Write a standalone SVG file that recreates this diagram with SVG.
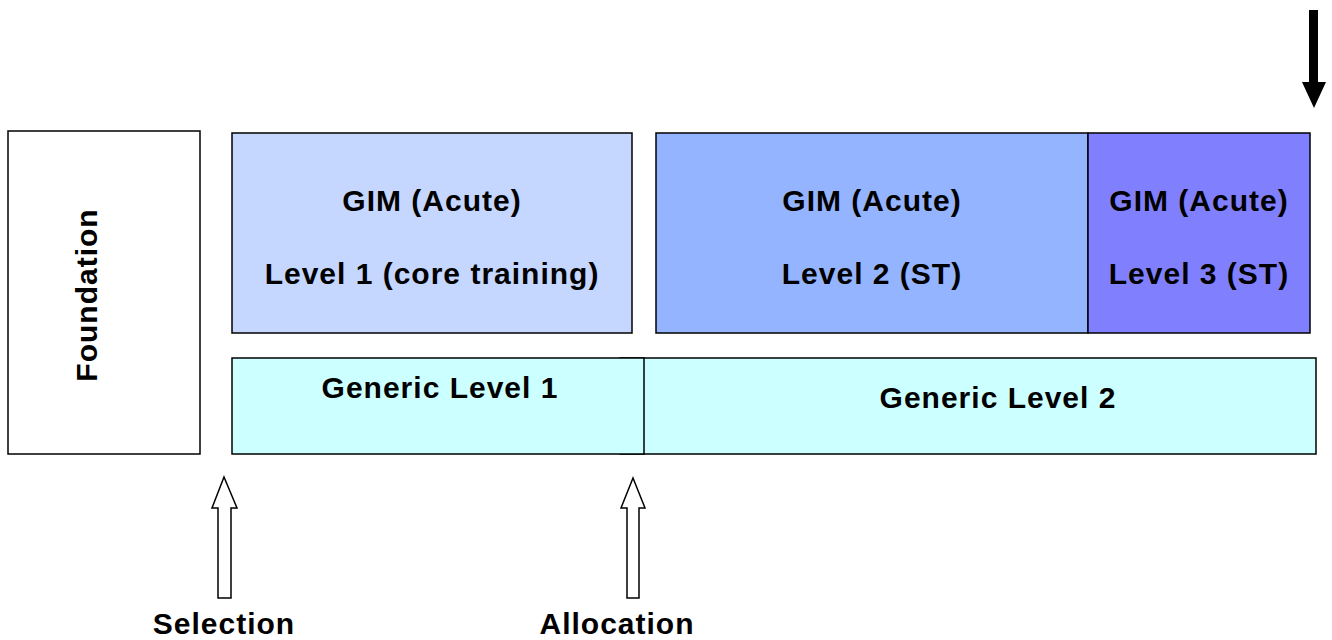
<svg xmlns="http://www.w3.org/2000/svg" width="1332" height="640" viewBox="0 0 1332 640">
<style>
.box{stroke:#000;stroke-width:1.5}
.t{font-family:"Liberation Sans",Arial,sans-serif;font-weight:bold;font-size:30px;letter-spacing:1px;fill:#000;text-anchor:middle}
.hollow{fill:#fff;stroke:#000;stroke-width:1.5}
</style>
<rect width="1332" height="640" fill="#fff"/>
<g id="foundation">
<rect class="box" x="8" y="131" width="192" height="323" fill="#fff"/>
<text class="t" transform="translate(97,295) rotate(-90)">Foundation</text>
</g>
<g id="gim-level1">
<rect class="box" x="232" y="133" width="400" height="200" fill="#C5D7FF"/>
<text class="t" x="432" y="211">GIM (Acute)</text>
<text class="t" x="432" y="284">Level 1 (core training)</text>
</g>
<g id="gim-level2">
<rect class="box" x="656" y="133" width="432" height="200" fill="#94B4FF"/>
<text class="t" x="872" y="211">GIM (Acute)</text>
<text class="t" x="872" y="284">Level 2 (ST)</text>
</g>
<g id="gim-level3">
<rect class="box" x="1088" y="133" width="222" height="200" fill="#8080FF"/>
<text class="t" x="1199" y="211">GIM (Acute)</text>
<text class="t" x="1199" y="284">Level 3 (ST)</text>
</g>
<g id="generic-level2">
<rect class="box" x="620" y="358" width="696" height="96" fill="#CCFFFF"/>
<text class="t" x="998" y="408">Generic Level 2</text>
</g>
<g id="generic-level1">
<rect class="box" x="232" y="358" width="412" height="96" fill="#CCFFFF"/>
<text class="t" x="440" y="398">Generic Level 1</text>
</g>
<g id="connectors">
<polygon class="hollow" points="224,477 237,508 231,508 231,598 218,598 218,508 212,508"/>
<polygon class="hollow" points="633,478 645,508 639,508 639,598 627,598 627,508 621,508"/>
<polygon fill="#000" points="1309,10 1318,10 1318,82 1326,82 1314,108 1302,82 1309,82"/>
</g>
<text class="t" x="224" y="634">Selection</text>
<text class="t" x="617" y="634">Allocation</text>
</svg>
